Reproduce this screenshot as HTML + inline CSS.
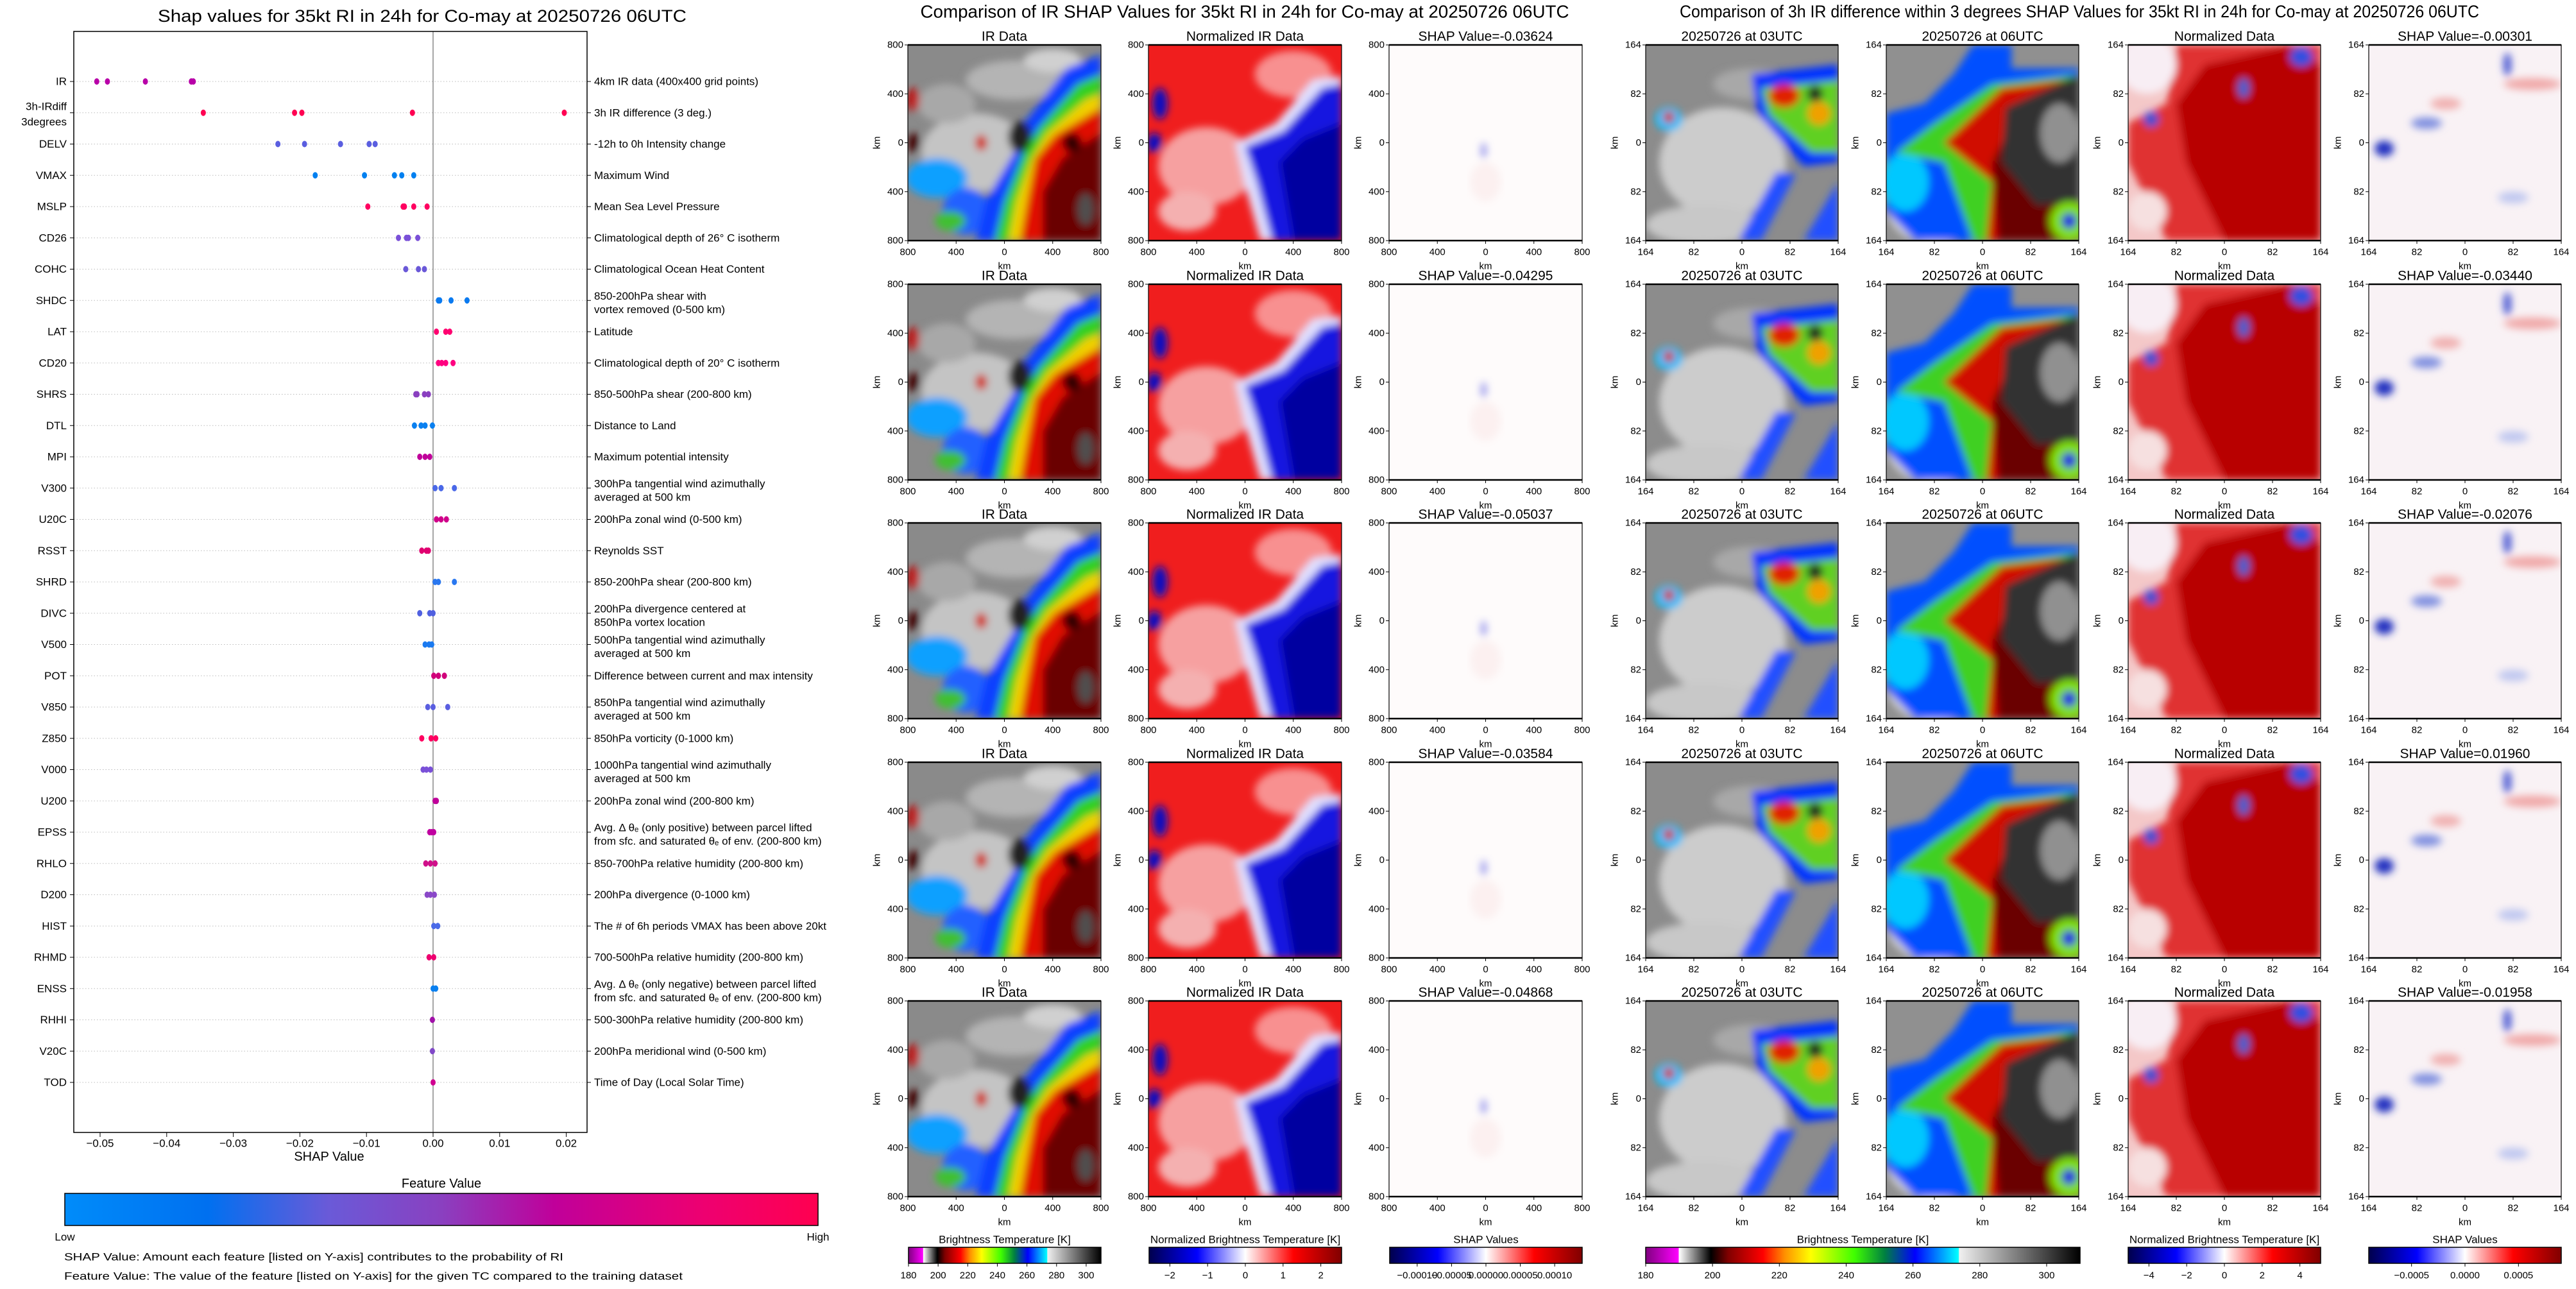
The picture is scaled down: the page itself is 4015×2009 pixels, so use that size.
<!DOCTYPE html>
<html><head><meta charset="utf-8"><style>
html,body{margin:0;padding:0;background:#fff;}
svg{display:block;font-family:"Liberation Sans","DejaVu Sans",sans-serif;}
</style></head><body>
<svg id="root" xmlns="http://www.w3.org/2000/svg" width="4015" height="2009" viewBox="0 0 4015 2009">
<defs>
<filter id="blur" x="-10%" y="-10%" width="120%" height="120%"><feGaussianBlur stdDeviation="6"/></filter>
<linearGradient id="featGrad" x1="0" x2="1" y1="0" y2="0">
<stop offset="0" stop-color="#008cfa"/><stop offset="0.19" stop-color="#0070f0"/><stop offset="0.35" stop-color="#6a5ad8"/><stop offset="0.5" stop-color="#8a40c0"/><stop offset="0.65" stop-color="#c0009a"/><stop offset="0.85" stop-color="#ee0070"/><stop offset="1" stop-color="#ff0050"/>
</linearGradient>
<linearGradient id="btGrad" x1="0" x2="1" y1="0" y2="0">
<stop offset="0" stop-color="#800080"/><stop offset="0.075" stop-color="#ff00ff"/><stop offset="0.077" stop-color="#ffffff"/><stop offset="0.15" stop-color="#000000"/><stop offset="0.19" stop-color="#800000"/><stop offset="0.27" stop-color="#ff0000"/><stop offset="0.32" stop-color="#ff9000"/><stop offset="0.38" stop-color="#ffff00"/><stop offset="0.48" stop-color="#40ff00"/><stop offset="0.55" stop-color="#008040"/><stop offset="0.62" stop-color="#0000ff"/><stop offset="0.72" stop-color="#00ffff"/><stop offset="0.722" stop-color="#f0f0f0"/><stop offset="1" stop-color="#000000"/>
</linearGradient>
<linearGradient id="seisGrad" x1="0" x2="1" y1="0" y2="0">
<stop offset="0" stop-color="#00004c"/><stop offset="0.25" stop-color="#0000ff"/><stop offset="0.5" stop-color="#ffffff"/><stop offset="0.75" stop-color="#ff0000"/><stop offset="1" stop-color="#800000"/>
</linearGradient>
</defs>
</svg>
<script>
const NS='http://www.w3.org/2000/svg';
const root=document.getElementById('root');

// ---------- left SHAP chart data ----------
const features=['IR','3h-IRdiff|3degrees','DELV','VMAX','MSLP','CD26','COHC','SHDC','LAT','CD20','SHRS','DTL','MPI','V300','U20C','RSST','SHRD','DIVC','V500','POT','V850','Z850','V000','U200','EPSS','RHLO','D200','HIST','RHMD','ENSS','RHHI','V20C','TOD'];
const descriptions=['4km IR data (400x400 grid points)','3h IR difference (3 deg.)','-12h to 0h Intensity change','Maximum Wind','Mean Sea Level Pressure','Climatological depth of 26° C isotherm','Climatological Ocean Heat Content','850-200hPa shear with|vortex removed (0-500 km)','Latitude','Climatological depth of 20° C isotherm','850-500hPa shear (200-800 km)','Distance to Land','Maximum potential intensity','300hPa tangential wind azimuthally|averaged at 500 km','200hPa zonal wind (0-500 km)','Reynolds SST','850-200hPa shear (200-800 km)','200hPa divergence centered at|850hPa vortex location','500hPa tangential wind azimuthally|averaged at 500 km','Difference between current and max intensity','850hPa tangential wind azimuthally|averaged at 500 km','850hPa vorticity (0-1000 km)','1000hPa tangential wind azimuthally|averaged at 500 km','200hPa zonal wind (200-800 km)','Avg. Δ θₑ (only positive) between parcel lifted|from sfc. and saturated θₑ of env. (200-800 km)','850-700hPa relative humidity (200-800 km)','200hPa divergence (0-1000 km)','The # of 6h periods VMAX has been above 20kt','700-500hPa relative humidity (200-800 km)','Avg. Δ θₑ (only negative) between parcel lifted|from sfc. and saturated θₑ of env. (200-800 km)','500-300hPa relative humidity (200-800 km)','200hPa meridional wind (0-500 km)','Time of Day (Local Solar Time)'];
const shapValues=[
[-0.0505,-0.0489,-0.0432,-0.0363,-0.0360],
[-0.0345,-0.0208,-0.0197,-0.0031,0.0197],
[-0.0233,-0.0193,-0.0139,-0.0096,-0.0087],
[-0.0177,-0.0103,-0.0058,-0.0047,-0.0029],
[-0.0098,-0.0045,-0.0043,-0.0029,-0.0009],
[-0.0052,-0.0040,-0.0037,-0.0023],
[-0.0041,-0.0022,-0.0013],
[0.0008,0.0010,0.0027,0.0051],
[0.0005,0.0019,0.0025],
[0.0008,0.0013,0.0019,0.0030],
[-0.0026,-0.0024,-0.0013,-0.0007],
[-0.0028,-0.0018,-0.0012,-0.0001],
[-0.0020,-0.0012,-0.0005],
[0.0003,0.0012,0.0032],
[0.0005,0.0012,0.0020],
[-0.0017,-0.0010,-0.0007],
[0.0003,0.0008,0.0032],
[-0.0020,-0.0005,0.0000],
[-0.0012,-0.0006,-0.0002],
[0.0001,0.0008,0.0017],
[-0.0008,0.0000,0.0022],
[-0.0017,-0.0003,0.0004],
[-0.0015,-0.0010,-0.0004],
[0.0003,0.0005],
[-0.0005,-0.0002,0.0001],
[-0.0011,-0.0004,0.0003],
[-0.0009,-0.0004,0.0002],
[0.0001,0.0007],
[-0.0006,0.0001],
[0.0000,0.0004],
[-0.0001],
[-0.0001],
[0.0000]];
const featureColors=['#b800a8','#ff0052','#5a5ee0','#0080f0','#ff0060','#7a50d8','#6a58d8','#0a7af0','#ff0070','#ff0080','#8a40c0','#0a80f0','#c0009a','#4a68e8','#d0008a','#e00070','#2a78f0','#5060e0','#1a7af0','#d0007a','#5a5ee0','#ff0060','#7a50d8','#c0009a','#c000a0','#d0108a','#8a48c8','#4a6ae8','#ee0070','#0a80f0','#a010a8','#8048c8','#d00090'];
const xTicks=[-0.05,-0.04,-0.03,-0.02,-0.01,0.00,0.01,0.02];
const xTickLabels=['−0.05','−0.04','−0.03','−0.02','−0.01','0.00','0.01','0.02'];

// ---------- image panel data ----------
const irShap=['-0.03624','-0.04295','-0.05037','-0.03584','-0.04868'];
const diffShap=['-0.00301','-0.03440','-0.02076','0.01960','-0.01958'];
const irAxisTicks=['800','400','0','400','800'];
const diffAxisTicks=['164','82','0','82','164'];
const btTicks=[180,200,220,240,260,280,300];
const normIrTicks=[-2,-1,0,1,2];
const shapIrTickLabels=['−0.00010','−0.00005','0.00000','0.00005','0.00010'];
const shapIrTicks=[-0.0001,-0.00005,0,0.00005,0.0001];
const normDiffTicks=[-4,-2,0,2,4];
const shapDiffTicks=[-0.0005,0,0.0005];
const shapDiffTickLabels=['−0.0005','0.0000','0.0005'];

function el(tag,attrs,parent){const e=document.createElementNS(NS,tag);for(const k in attrs)e.setAttribute(k,attrs[k]);(parent||root).appendChild(e);return e;}
function txt(x,y,s,size,anchor,parent,extra){const t=el('text',Object.assign({x:x,y:y,'font-size':size,'text-anchor':anchor||'middle','dominant-baseline':'central',fill:'#000'},extra||{}),parent);t.textContent=s;return t;}

// ---------- left chart ----------
const L={x0:115,x1:915,y0:49,y1:1765,zeroX:675,perUnit:10380,rowY0:127,rowStep:48.75};
function xScale(v){return L.zeroX+v*L.perUnit;}
function yScale(i){return L.rowY0+i*L.rowStep;}
const lg=el('g',{});


const t1=txt(658,25,'Shap values for 35kt RI in 24h for Co-may at 20250726 06UTC',27,'middle',lg,{textLength:824,lengthAdjust:'spacingAndGlyphs'});


features.forEach((f,i)=>{
  const y=yScale(i);
  const gl=el('line',{x1:L.x0,x2:L.x1,y1:y,y2:y,stroke:'#bbb','stroke-width':1,'stroke-dasharray':'1.5,3'},lg);
  
  
  el('line',{x1:L.x0-6,x2:L.x0,y1:y,y2:y,stroke:'#000','stroke-width':1},lg);
  el('line',{x1:L.x1,x2:L.x1+6,y1:y,y2:y,stroke:'#000','stroke-width':1},lg);
  const parts=f.split('|');
  if(parts.length===1){const t=txt(104,y,f,17,'end',lg);}
  else{parts.forEach((p,k)=>{const t=txt(104,y+(k===0?-10:14),p,17,'end',lg);});}
  const dp=descriptions[i].split('|');
  if(dp.length===1){const t=txt(926,y,dp[0],17,'start',lg);}
  else{dp.forEach((p,k)=>{const t=txt(926,y+(k===0?-7:14),p,17,'start',lg);});}
});
const zl=el('line',{x1:xScale(0),x2:xScale(0),y1:L.y0,y2:L.y1,stroke:'#888','stroke-width':1.5},lg);


shapValues.forEach((vals,i)=>{
  vals.forEach(v=>{
    const d=el('ellipse',{cx:xScale(v),cy:yScale(i),rx:4,ry:5,fill:featureColors[i]},lg);
    
    
  });
});
const fr=el('rect',{x:L.x0,y:L.y0,width:L.x1-L.x0,height:L.y1-L.y0,fill:'none',stroke:'#000','stroke-width':1.5},lg);


xTicks.forEach((v,k)=>{
  const x=xScale(v);
  el('line',{x1:x,x2:x,y1:L.y1,y2:L.y1+7,stroke:'#000','stroke-width':1},lg);
  const t=txt(x,1782,xTickLabels[k],17,'middle',lg);
  
  
});
const xt=txt(513,1803,'SHAP Value',20,'middle',lg);


const fvt=txt(688,1845,'Feature Value',20,'middle',lg);


const fcb=el('rect',{x:101,y:1860,width:1174,height:50,fill:'url(#featGrad)',stroke:'#000','stroke-width':1.5},lg);


const lo=txt(101,1928,'Low',17,'middle',lg);
const hi=txt(1275,1928,'High',17,'middle',lg);
const n1=txt(100,1959,'SHAP Value: Amount each feature [listed on Y-axis] contributes to the probability of RI',17,'start',lg,{textLength:778,lengthAdjust:'spacingAndGlyphs'});

const n2=txt(100,1989,'Feature Value: The value of the feature [listed on Y-axis] for the given TC compared to the training dataset',17,'start',lg,{textLength:964,lengthAdjust:'spacingAndGlyphs'});


// ---------- imagery panels ----------
const LAYERS={
 ir:{bg:'#8a8a8a',shapes:[
  ['e',0.35,0.55,0.28,0.2,'#c4c4c4'],['e',0.55,0.18,0.25,0.1,'#b4b4b4'],['e',0.2,0.3,0.15,0.1,'#a8a8a8'],['e',0.75,0.08,0.15,0.06,'#d0d0d0'],
  ['e',0.15,0.68,0.16,0.1,'#10a0ff'],['e',0.3,0.85,0.12,0.12,'#2060ff'],['e',0.22,0.9,0.08,0.05,'#40c030'],
  ['p',[[0.82,0.12],[1,0.05],[1,1],[0.35,1],[0.4,0.8],[0.55,0.55],[0.6,0.4]],'#1040ff'],
  ['p',[[0.88,0.2],[1,0.15],[1,1],[0.45,1],[0.5,0.8],[0.6,0.55],[0.68,0.42]],'#30d020'],
  ['p',[[0.92,0.28],[1,0.25],[1,1],[0.52,1],[0.56,0.8],[0.64,0.58],[0.72,0.45]],'#f0d000'],
  ['p',[[0.95,0.35],[1,0.32],[1,1],[0.58,1],[0.62,0.78],[0.66,0.58],[0.76,0.46]],'#e01000'],
  ['p',[[1,0.45],[1,1],[0.7,1],[0.7,0.75],[0.8,0.58]],'#6a0000'],
  ['e',0.58,0.47,0.06,0.08,'#202020'],['e',0.92,0.84,0.04,0.08,'#505050'],['e',0.85,0.5,0.05,0.05,'#300000'],
  ['e',0.03,0.28,0.03,0.06,'#c00000'],['e',0.03,0.5,0.03,0.05,'#400000'],['e',0.38,0.5,0.03,0.04,'#d02000']]},
 nir:{bg:'#f01e1e',shapes:[
  ['e',0.3,0.62,0.25,0.2,'#f6a0a0'],['e',0.75,0.15,0.2,0.12,'#f89090'],['e',0.2,0.85,0.15,0.1,'#f4b0b0'],
  ['p',[[0.85,0.18],[1,0.16],[1,1],[0.58,1],[0.5,0.72],[0.45,0.5],[0.66,0.4]],'#e0e0ff'],
  ['p',[[0.9,0.22],[1,0.2],[1,1],[0.64,1],[0.56,0.7],[0.5,0.52],[0.7,0.44]],'#1818e0'],
  ['p',[[1,0.4],[1,1],[0.75,1],[0.68,0.6],[0.8,0.48]],'#0000a0'],
  ['e',0.06,0.3,0.04,0.08,'#1010c0'],['e',0.03,0.5,0.04,0.05,'#1010c0']]},
 sir:{bg:'#fefbfb',shapes:[['e',0.49,0.54,0.012,0.04,'#8080e8'],['e',0.5,0.7,0.08,0.1,'#fcf0f0']]},
 d03:{bg:'#8c8c8c',shapes:[
  ['e',0.4,0.6,0.33,0.28,'#cccccc'],['e',0.3,0.92,0.3,0.1,'#c8c8c8'],['e',0.55,0.2,0.2,0.08,'#a8a8a8'],
  ['p',[[0.55,0.15],[1,0.1],[1,0.6],[0.82,0.62],[0.58,0.35]],'#0030ff'],
  ['p',[[0.6,0.22],[1,0.18],[1,0.55],[0.86,0.55],[0.64,0.36]],'#60d020'],
  ['e',0.72,0.26,0.08,0.06,'#e02000'],['e',0.88,0.25,0.04,0.04,'#202020'],['e',0.9,0.35,0.06,0.06,'#f0a000'],
  ['p',[[0.48,1],[0.68,0.65],[0.78,0.66],[0.6,1]],'#2050ff'],['p',[[0.82,1],[1,0.7],[1,1]],'#2050ff'],
  ['e',0.12,0.38,0.07,0.06,'#00c0ff'],['e',0.12,0.37,0.03,0.03,'#d02000']]},
 d06:{bg:'#909090',shapes:[
  ['e',0.25,0.82,0.25,0.2,'#d8d8d8'],
  ['p',[[0.45,0],[0.65,0],[0.65,0.12],[1,0.12],[1,1],[0.15,1],[0,0.85],[0,0.35],[0.2,0.3],[0.35,0.15]],'#0050ff'],
  ['e',0.1,0.7,0.12,0.15,'#00c8ff'],
  ['p',[[0.55,0.2],[1,0.15],[1,1],[0.45,1],[0.3,0.6],[0.05,0.55],[0.25,0.4]],'#40d020'],
  ['p',[[0.6,0.22],[1,0.17],[1,1],[0.52,1],[0.55,0.7],[0.3,0.5]],'#d01000'],
  ['p',[[0.7,0.3],[1,0.2],[1,1],[0.58,1],[0.55,0.6]],'#6a0000'],
  ['p',[[0.62,0.32],[1,0.15],[1,0.8],[0.78,0.82],[0.6,0.6]],'#303030'],
  ['e',0.9,0.45,0.1,0.15,'#909090'],['e',0.95,0.9,0.1,0.1,'#80e000'],['e',0.95,0.9,0.04,0.04,'#2020e0']]},
 ndat:{bg:'#f4c8c8',shapes:[
  ['p',[[0.25,0],[1,0],[1,1],[0.2,1],[0,0.6],[0,0.4],[0.2,0.3]],'#e03030'],
  ['p',[[0.4,0.1],[0.85,0],[1,0.1],[1,1],[0.5,1],[0.3,0.6],[0.25,0.3]],'#b80000'],
  ['e',0.1,0.1,0.15,0.15,'#f8eef4'],['e',0.9,0.06,0.06,0.05,'#3050e0'],['e',0.6,0.22,0.03,0.05,'#4060d0'],['e',0.12,0.38,0.04,0.04,'#4050d0'],['e',0.1,0.85,0.1,0.1,'#f6e0e0']]},
 sdat:{bg:'#f9f2f5',shapes:[['e',0.08,0.53,0.05,0.04,'#2030c0'],['e',0.3,0.4,0.08,0.03,'#8090e0'],['e',0.72,0.1,0.02,0.06,'#4050d0'],['e',0.85,0.2,0.15,0.03,'#f0a8a8'],['e',0.4,0.3,0.08,0.03,'#f0b0b0'],['e',0.75,0.78,0.08,0.03,'#c0c8f0']]}
};
let clipId=0;
function panel(x,y,w,h,kind,title,ticks){
  const g=el('g',{});
  
  
  const cid='clip'+(clipId++);
  const cp=el('clipPath',{id:cid},g);el('rect',{x:x,y:y,width:w,height:h},cp);
  const ig=el('g',{'clip-path':'url(#'+cid+')'},g);
  const L2=LAYERS[kind];
  el('rect',{x:x,y:y,width:w,height:h,fill:L2.bg},ig);
  const bg=el('g',{filter:'url(#blur)'},ig);
  L2.shapes.forEach(s=>{
    if(s[0]==='e')el('ellipse',{cx:x+s[1]*w,cy:y+s[2]*h,rx:s[3]*w,ry:s[4]*h,fill:s[5]},bg);
    else el('polygon',{points:s[1].map(p=>(x+p[0]*w)+','+(y+p[1]*h)).join(' '),fill:s[2]},bg);
  });
  el('rect',{x:x,y:y,width:w,height:h,fill:'none',stroke:'#000','stroke-width':1.2},g);
  el('line',{x1:x,x2:x+w,y1:y,y2:y,stroke:'#000','stroke-width':2.5},g);
  el('line',{x1:x,x2:x+w,y1:y+h,y2:y+h,stroke:'#000','stroke-width':2.5},g);
  const tt=txt(x+w/2,y-13,title,21,'middle',g);
  
  
  ticks.forEach((lab,k)=>{
    const f=k/4;
    el('line',{x1:x-5,x2:x,y1:y+f*h,y2:y+f*h,stroke:'#000'},g);
    const a=txt(x-7,y+f*h,lab,15,'end',g);
    el('line',{x1:x+f*w,x2:x+f*w,y1:y+h,y2:y+h+5,stroke:'#000'},g);
    const b=txt(x+f*w,y+h+18,lab,15,'middle',g);
  });
  const xl=txt(x+w/2,y+h+40,'km',15,'middle',g);
  const yl=txt(x-48,y+h/2,'km',15,'middle',g,{transform:'rotate(-90 '+(x-48)+' '+(y+h/2)+')'});
}
const rowTop=[70,443,815,1188,1560];
const irX=[1415,1790,2165];
const dX=[2565,2940,3317,3692];
rowTop.forEach((y,r)=>{
  panel(irX[0],y,301,305,'ir','IR Data',irAxisTicks);
  panel(irX[1],y,301,305,'nir','Normalized IR Data',irAxisTicks);
  panel(irX[2],y,301,305,'sir','SHAP Value='+irShap[r],irAxisTicks);
  panel(dX[0],y,300,305,'d03','20250726 at 03UTC',diffAxisTicks);
  panel(dX[1],y,300,305,'d06','20250726 at 06UTC',diffAxisTicks);
  panel(dX[2],y,300,305,'ndat','Normalized Data',diffAxisTicks);
  panel(dX[3],y,300,305,'sdat','SHAP Value='+diffShap[r],diffAxisTicks);
});
const tIR=txt(1940,18,'Comparison of IR SHAP Values for 35kt RI in 24h for Co-may at 20250726 06UTC',28,'middle',null,{textLength:1011,lengthAdjust:'spacingAndGlyphs'});

const tD=txt(3241,18,'Comparison of 3h IR difference within 3 degrees SHAP Values for 35kt RI in 24h for Co-may at 20250726 06UTC',27,'middle',null,{textLength:1246,lengthAdjust:'spacingAndGlyphs'});


// ---------- colorbars ----------
function colorbar(x,w,grad,title,vmin,vmax,ticks,labels,name){
  const g=el('g',{});
  
  
  const t=txt(x+w/2,1932,title,17,'middle',g);
  el('rect',{x:x,y:1944,width:w,height:25,fill:'url(#'+grad+')',stroke:'#000','stroke-width':1.5},g);
  ticks.forEach((v,k)=>{
    const px=x+(v-vmin)/(vmax-vmin)*w;
    el('line',{x1:px,x2:px,y1:1969,y2:1974,stroke:'#000'},g);
    const l=txt(px,1988,labels?labels[k]:String(v).replace('-','−'),15,'middle',g);
    
  });
}
colorbar(1416,300,'btGrad','Brightness Temperature [K]',180,310,btTicks,null,'ir-bt-colorbar');
colorbar(1791,300,'seisGrad','Normalized Brightness Temperature [K]',-2.55,2.55,normIrTicks,null,'ir-normalized-colorbar');
colorbar(2166,300,'seisGrad','SHAP Values',-0.00014,0.00014,shapIrTicks,shapIrTickLabels,'ir-shap-colorbar');
colorbar(2565,677,'btGrad','Brightness Temperature [K]',180,310,btTicks,null,'diff-bt-colorbar');
colorbar(3317,300,'seisGrad','Normalized Brightness Temperature [K]',-5.1,5.1,normDiffTicks,null,'diff-normalized-colorbar');
colorbar(3692,300,'seisGrad','SHAP Values',-0.0009,0.0009,shapDiffTicks,shapDiffTickLabels,'diff-shap-colorbar');
</script>
</body></html>
